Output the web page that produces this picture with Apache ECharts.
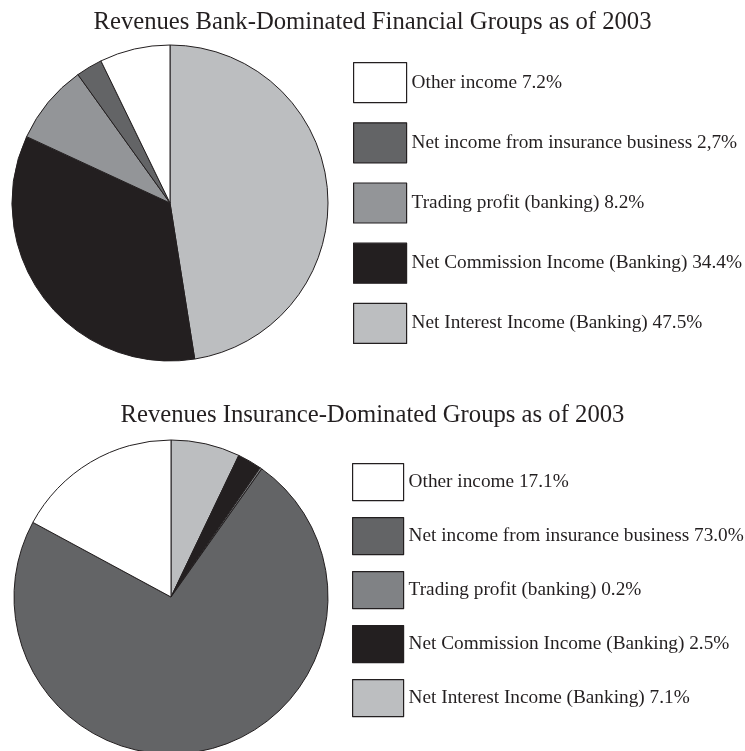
<!DOCTYPE html>
<html>
<head>
<meta charset="utf-8">
<script src="https://cdn.jsdelivr.net/npm/echarts@6/dist/echarts.min.js"></script>
<style>
  html, body { margin: 0; padding: 0; background: #fff; }
  #chart { width: 745px; height: 751px; }
</style>
</head>
<body>
<div id="chart"></div>
<script>
// Revenue categories, listed clockwise from 12 o'clock
const categories = [
  'Net Interest Income (Banking)',
  'Net Commission Income (Banking)',
  'Trading profit (banking)',
  'Net income from insurance business',
  'Other income'
];

// Shares of revenue (%) for bank-dominated financial groups
const bankValues = [47.5, 34.4, 8.2, 2.7, 7.2];
const bankLabels = ['47.5%', '34.4%', '8.2%', '2,7%', '7.2%'];

// Shares of revenue (%) for insurance-dominated groups
const insuranceValues = [7.1, 2.5, 0.2, 73.0, 17.1];
const insuranceLabels = ['7.1%', '2.5%', '0.2%', '73.0%', '17.1%'];

// Legend order (top to bottom)
const legendOrder = [4, 3, 2, 1, 0];

const titles = [
  'Revenues Bank-Dominated Financial Groups as of 2003',
  'Revenues Insurance-Dominated Groups as of 2003'
];

const bankColors = ['#bcbec0', '#231f20', '#939598', '#636466', '#ffffff'];
const insuranceColors = ['#bcbec0', '#231f20', '#808285', '#636466', '#ffffff'];

const FONT = '"Liberation Serif", "Times New Roman", serif';
const EDGE = '#231f20';

function pieData(values, colors) {
  return values.map((v, i) => ({
    name: categories[i],
    value: v,
    itemStyle: { color: colors[i] }
  }));
}

function legendFor(colors, labels, left, top, h, w, gap) {
  return {
    orient: 'vertical',
    left: left,
    top: top,
    padding: 0,
    itemWidth: w,
    itemHeight: h,
    itemGap: gap,
    icon: 'rect',
    selectedMode: false,
    itemStyle: { borderColor: EDGE, borderWidth: 1.2 },
    textStyle: { fontFamily: FONT, fontSize: 19.3, color: '#231f20' },
    formatter: function (name) {
      return name + ' ' + labels[categories.indexOf(name)];
    },
    data: legendOrder.map(i => ({
      name: categories[i],
      itemStyle: { color: colors[i], borderColor: EDGE, borderWidth: 1.2 }
    }))
  };
}

const chart = echarts.init(document.getElementById('chart'));
chart.setOption({
  backgroundColor: '#ffffff',
  animation: false,
  title: [
    {
      text: titles[0], left: 'center', top: 5,
      textStyle: { fontFamily: FONT, fontSize: 24.7, fontWeight: 'normal', color: '#231f20' }
    },
    {
      text: titles[1], left: 'center', top: 398,
      textStyle: { fontFamily: FONT, fontSize: 24.7, fontWeight: 'normal', color: '#231f20' }
    }
  ],
  legend: [
    legendFor(bankColors, bankLabels, 353, 62, 40, 53, 19),
    legendFor(insuranceColors, insuranceLabels, 352, 463, 37, 51, 15.8)
  ],
  series: [
    {
      type: 'pie',
      center: [170, 203],
      radius: 158,
      startAngle: 90,
      clockwise: true,
      label: { show: false },
      labelLine: { show: false },
      emphasis: { disabled: true },
      itemStyle: { borderColor: EDGE, borderWidth: 1 },
      data: pieData(bankValues, bankColors)
    },
    {
      type: 'pie',
      center: [171, 597],
      radius: 157,
      startAngle: 90,
      clockwise: true,
      label: { show: false },
      labelLine: { show: false },
      emphasis: { disabled: true },
      itemStyle: { borderColor: EDGE, borderWidth: 1 },
      data: pieData(insuranceValues, insuranceColors)
    }
  ]
});
</script>
</body>
</html>
